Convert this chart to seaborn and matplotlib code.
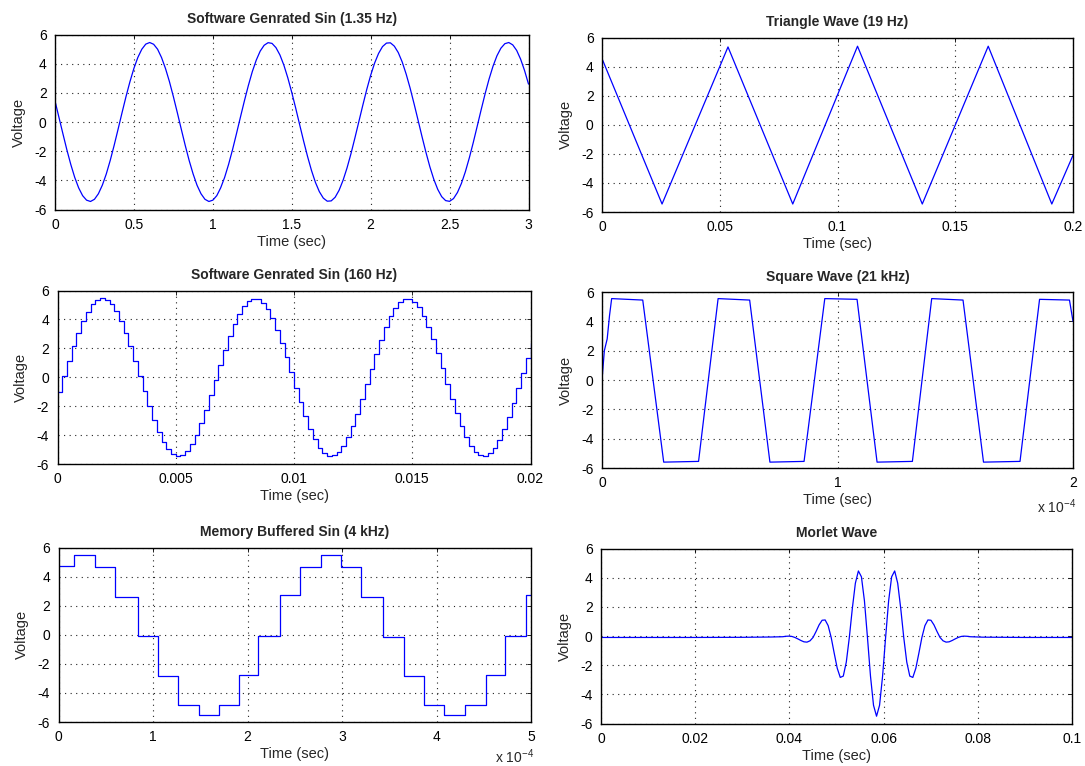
import numpy as np
import matplotlib
matplotlib.use("Agg")
import matplotlib.pyplot as plt
import seaborn as sns

sns.set_style("white")
plt.rcParams['font.family'] = ['Liberation Sans', 'DejaVu Sans']
plt.rcParams['mathtext.fontset'] = 'custom'
plt.rcParams['mathtext.rm'] = 'Liberation Sans'
plt.rcParams['mathtext.it'] = 'Liberation Sans:italic'
plt.rcParams['mathtext.bf'] = 'Liberation Sans:bold'

# ---------------- data ----------------
titles = ["Software Genrated Sin (1.35 Hz)", "Triangle Wave (19 Hz)",
          "Software Genrated Sin (160 Hz)", "Square Wave (21 kHz)",
          "Memory Buffered Sin (4 kHz)", "Morlet Wave"]

# Panel 1: software sine 1.35 Hz, sampled every 0.025 s over 0..3 s
sin1_t = np.linspace(0, 3, 121)
sin1_v = [1.44, 0.32, -0.80, -1.90, -2.91, -3.80, -4.52, -5.05, -5.36, -5.45,
          -5.30, -4.92, -4.33, -3.56, -2.63, -1.59, -0.48, 0.65, 1.75, 2.77,
          3.68, 4.43, 4.99, 5.34, 5.45, 5.33, 4.99, 4.42, 3.67, 2.77,
          1.74, 0.64, -0.49, -1.60, -2.64, -3.56, -4.34, -4.92, -5.30, -5.45,
          -5.36, -5.05, -4.51, -3.79, -2.90, -1.89, -0.79, 0.34, 1.45, 2.50,
          3.45, 4.24, 4.86, 5.26, 5.44, 5.39, 5.10, 4.60, 3.90, 3.03,
          2.03, 0.95, -0.18, -1.30, -2.36, -3.32, -4.14, -4.78, -5.22, -5.43,
          -5.41, -5.16, -4.68, -4.00, -3.16, -2.18, -1.10, 0.02, 1.14, 2.22,
          3.20, 4.04, 4.70, 5.17, 5.41, 5.43, 5.20, 4.76, 4.11, 3.28,
          2.32, 1.25, 0.14, -0.99, -2.07, -3.07, -3.93, -4.62, -5.12, -5.39,
          -5.44, -5.25, -4.83, -4.21, -3.41, -2.46, -1.41, -0.29, 0.84, 1.93,
          2.94, 3.82, 4.54, 5.06, 5.37, 5.45, 5.29, 4.91, 4.31, 3.53, 2.60]

# Panel 2: triangle wave vertices
tri_t = [0.0, 0.0255, 0.0535, 0.081, 0.1085, 0.136, 0.164, 0.191, 0.2]
tri_v = [4.55, -5.45, 5.35, -5.45, 5.4, -5.45, 5.4, -5.45, -2.1]

# Panel 3: stepped sine 160 Hz, one DAC sample every 0.2 ms
sin160_t = np.linspace(0, 0.02, 101)
sin160_v = [-0.99, 0.06, 1.12, 2.13, 3.06, 3.87, 4.54, 5.04, 5.35, 5.45,
            5.35, 5.04, 4.55, 3.88, 3.07, 2.14, 1.13, 0.07, -0.98, -2.00,
            -2.94, -3.78, -4.47, -4.99, -5.32, -5.45, -5.37, -5.09, -4.62, -3.98,
            -3.18, -2.26, -1.26, -0.21, 0.85, 1.87, 2.83, 3.68, 4.39, 4.93,
            5.29, 5.44, 5.39, 5.14, 4.69, 4.07, 3.29, 2.39, 1.39, 0.35,
            -0.71, -1.74, -2.71, -3.57, -4.30, -4.87, -5.25, -5.43, -5.41, -5.19,
            -4.76, -4.16, -3.40, -2.51, -1.53, -0.48, 0.58, 1.61, 2.59, 3.47,
            4.22, 4.81, 5.21, 5.42, 5.43, 5.23, 4.83, 4.25, 3.50, 2.63,
            1.66, 0.62, -0.44, -1.48, -2.47, -3.36, -4.13, -4.74, -5.17, -5.41,
            -5.44, -5.26, -4.89, -4.33, -3.61, -2.75, -1.79, -0.76, 0.30, 1.35, 2.35]

# Panel 4: square wave (time in units of 1e-4 s)
sq_t = [0.0, 0.010, 0.022, 0.032, 0.041, 0.173, 0.262, 0.410, 0.493, 0.627,
        0.713, 0.858, 0.946, 1.083, 1.168, 1.318, 1.400, 1.533, 1.620, 1.775,
        1.858, 1.985, 2.0]
sq_v = [0.0, 2.0, 2.8, 4.4, 5.55, 5.45, -5.6, -5.55, 5.55, 5.45,
        -5.6, -5.55, 5.55, 5.5, -5.6, -5.55, 5.55, 5.45, -5.6, -5.55,
        5.5, 5.45, 4.0]

# Panel 5: memory buffered sine (time in units of 1e-4 s), step start times and levels
mem_t = [0.0, 0.16, 0.39, 0.60, 0.845, 1.055, 1.265, 1.485, 1.70, 1.91,
         2.115, 2.345, 2.555, 2.78, 2.99, 3.205, 3.435, 3.655, 3.865, 4.08,
         4.30, 4.52, 4.73, 4.95, 5.0]
mem_v = [4.7, 5.45, 4.65, 2.6, -0.1, -2.85, -4.85, -5.55, -4.8, -2.8,
         -0.1, 2.7, 4.65, 5.45, 4.65, 2.6, -0.15, -2.85, -4.85, -5.55,
         -4.8, -2.8, -0.1, 2.7, 2.75]

# Panel 6: Morlet wave
morlet_lead_t = [0.0, 0.01, 0.02, 0.03, 0.036]
morlet_lead_v = [-0.1, -0.1, -0.1, -0.09, -0.07]
morlet_core_t = np.linspace(0.0386, 0.0784, 63)
morlet_core_v = [-0.05, -0.02, -0.01, -0.03, -0.10, -0.20, -0.31, -0.40, -0.42, -0.33,
                 -0.10, 0.31, 0.76, 1.08, 1.10, 0.71, -0.10, -1.18, -2.21, -2.84,
                 -2.75, -1.79, -0.10, 1.90, 3.62, 4.46, 4.06, 2.41, -0.10, -2.75,
                 -4.75, -5.50, -4.75, -2.75, -0.10, 2.41, 4.06, 4.46, 3.62, 1.90,
                 -0.10, -1.79, -2.75, -2.84, -2.21, -1.18, -0.10, 0.71, 1.10, 1.08,
                 0.76, 0.31, -0.10, -0.33, -0.42, -0.40, -0.31, -0.20, -0.10, -0.03,
                 -0.01, -0.02, -0.05]
morlet_tail_t = [0.081, 0.09, 0.1]
morlet_tail_v = [-0.08, -0.1, -0.1]

xticks = [[0, 0.5, 1, 1.5, 2, 2.5, 3],
          [0, 0.05, 0.1, 0.15, 0.2],
          [0, 0.005, 0.01, 0.015, 0.02],
          [0, 1, 2],
          [0, 1, 2, 3, 4, 5],
          [0, 0.02, 0.04, 0.06, 0.08, 0.1]]
xticklabels = [["0", "0.5", "1", "1.5", "2", "2.5", "3"],
               ["0", "0.05", "0.1", "0.15", "0.2"],
               ["0", "0.005", "0.01", "0.015", "0.02"],
               ["0", "1", "2"],
               ["0", "1", "2", "3", "4", "5"],
               ["0", "0.02", "0.04", "0.06", "0.08", "0.1"]]
yticks = [-6, -4, -2, 0, 2, 4, 6]
yticklabels = ["-6", "-4", "-2", "0", "2", "4", "6"]
xlims = [(0, 3), (0, 0.2), (0, 0.02), (0, 2), (0, 5), (0, 0.1)]
scale_note = [None, None, None, r"x 10$^{-4}$", r"x 10$^{-4}$", None]

series = [
    (sin1_t, sin1_v, None),
    (tri_t, tri_v, None),
    (sin160_t, sin160_v, "steps-post"),
    (sq_t, sq_v, None),
    (mem_t, mem_v, "steps-post"),
    (np.concatenate([morlet_lead_t, morlet_core_t, morlet_tail_t]),
     morlet_lead_v + morlet_core_v + morlet_tail_v, None),
]

# ---------------- layout ----------------
W, H = 1085, 766
fig = plt.figure(figsize=(W / 100, H / 100), dpi=100)
# (left, right, top, bottom) in pixels
boxes = [(55, 528.5, 34.5, 209.5),
         (602, 1073, 37.5, 212),
         (57.5, 530.5, 290.5, 464),
         (602, 1073, 292, 468),
         (58.5, 531, 547.5, 722),
         (601, 1072, 548.5, 723.5)]
note_y_px = [None, None, None, 507, 757, None]

LINE_COLOR = "#0000ff"
for i in range(6):
    x0, x1, y0, y1 = boxes[i]
    ax = fig.add_axes([x0 / W, 1 - y1 / H, (x1 - x0) / W, (y1 - y0) / H])
    xs, ys, ds = series[i]
    kw = dict(drawstyle=ds) if ds else {}
    sns.lineplot(x=np.asarray(xs, float), y=np.asarray(ys, float), ax=ax,
                 color=LINE_COLOR, linewidth=0.9, estimator=None, sort=False, **kw)
    ax.set_xlim(*xlims[i])
    ax.set_ylim(-6, 6)
    ax.set_xticks(xticks[i])
    ax.set_xticklabels(xticklabels[i])
    ax.set_yticks(yticks)
    ax.set_yticklabels(yticklabels)
    ax.grid(True, color="#222222", linestyle=(0, (1, 4)), linewidth=0.8)
    for sp in ax.spines.values():
        sp.set_visible(True)
        sp.set_color("black")
        sp.set_linewidth(1.0)
    ax.tick_params(direction="in", length=3, width=0.6, top=True, right=True,
                   labelsize=10, colors="black", pad=6)
    ax.set_title(titles[i], fontsize=10, fontweight="bold", pad=8)
    ax.set_xlabel("Time (sec)", fontsize=10.5, labelpad=2)
    ax.set_ylabel("Voltage", fontsize=10.5, labelpad=6)
    if scale_note[i]:
        fig.text((x1 + 3) / W, 1 - note_y_px[i] / H, scale_note[i],
                 ha="right", va="center", fontsize=10)

fig.savefig("out.png", dpi=100)
